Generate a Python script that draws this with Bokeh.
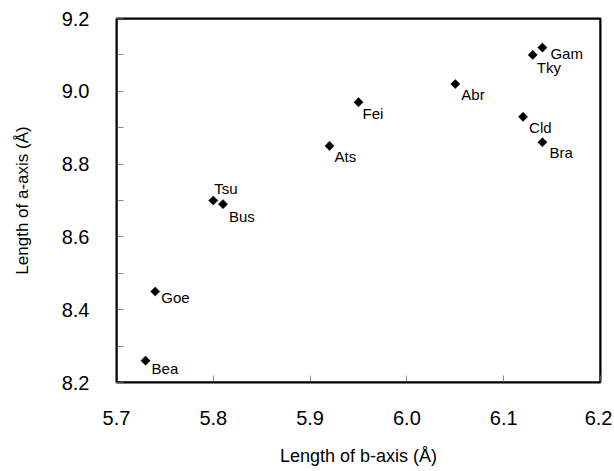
import math
from bokeh.plotting import figure
from bokeh.models import Range1d, FixedTicker, PrintfTickFormatter, ColumnDataSource, BoxAnnotation
from bokeh.core.properties import value
from bokeh.embed import file_html
from bokeh.resources import INLINE

# ---- data ----
names = ["Gam", "Tky", "Abr", "Fei", "Cld", "Bra", "Ats", "Tsu", "Bus", "Goe", "Bea"]
b_axis = [6.14, 6.13, 6.05, 5.95, 6.12, 6.14, 5.92, 5.80, 5.81, 5.74, 5.73]
a_axis = [9.12, 9.10, 9.02, 8.97, 8.93, 8.86, 8.85, 8.70, 8.69, 8.45, 8.26]
x_ticks = [5.7, 5.8, 5.9, 6.0, 6.1, 6.2]
y_ticks = [8.2, 8.4, 8.6, 8.8, 9.0, 9.2]
y_minor_ticks = [8.3, 8.5, 8.7, 8.9, 9.1]
x_title = "Length of b-axis (Å)"
y_title = "Length of a-axis (Å)"

# ---- label placement (pixels, right / down) ----
label_dx = {"Gam": 8, "Tky": 4, "Abr": 6, "Fei": 4, "Cld": 6, "Bra": 7,
            "Ats": 5, "Tsu": 1, "Bus": 6, "Goe": 6, "Bea": 6}
label_dy = {"Gam": 6, "Tky": 13, "Abr": 10, "Fei": 11, "Cld": 11, "Bra": 10,
            "Ats": 11, "Tsu": -12, "Bus": 12, "Goe": 6, "Bea": 8}

FONT = "Liberation Sans"
W, H = 612, 470
BL, BR, BT, BB = 116, 12, 18, 88
x0, x1 = x_ticks[0], x_ticks[-1]
y0, y1 = y_ticks[0], y_ticks[-1]

p = figure(width=W, height=H, output_backend="svg", toolbar_location=None,
           x_range=Range1d(x0, x1), y_range=Range1d(y0, y1),
           min_border_left=BL, min_border_right=BR,
           min_border_top=BT, min_border_bottom=BB)
p.background_fill_color = "white"
p.border_fill_color = "white"
p.grid.visible = False
p.outline_line_color = "black"
p.outline_line_width = 2

for ax in (p.xaxis[0], p.yaxis[0]):
    ax.axis_line_color = "black"
    ax.axis_line_width = 1
    ax.major_tick_in = 7
    ax.major_tick_out = 0
    ax.minor_tick_in = 7
    ax.minor_tick_out = 0
    ax.major_tick_line_color = "#888888"
    ax.minor_tick_line_color = "#888888"
    ax.major_label_text_font = FONT
    ax.major_label_text_font_size = "20px"
    ax.major_label_text_color = "black"
    ax.formatter = PrintfTickFormatter(format="%.1f")
    ax.axis_label_text_font = FONT
    ax.axis_label_text_font_style = "normal"
    ax.axis_label_text_color = "black"

p.xaxis[0].ticker = FixedTicker(ticks=x_ticks, minor_ticks=[])
p.yaxis[0].ticker = FixedTicker(ticks=y_ticks, minor_ticks=y_minor_ticks)
p.xaxis[0].major_label_standoff = 28
p.yaxis[0].major_label_standoff = 27
p.xaxis[0].axis_label = x_title
p.yaxis[0].axis_label = y_title
p.xaxis[0].axis_label_text_font_size = "18px"
p.yaxis[0].axis_label_text_font_size = "17px"
p.xaxis[0].axis_label_standoff = 18
p.yaxis[0].axis_label_standoff = 27

p.add_layout(BoxAnnotation(left=x0, right=x1, bottom=y0, top=y1,
                           fill_alpha=0, line_color="black", line_alpha=1,
                           line_width=2, level="overlay"))

src = ColumnDataSource(dict(
    x=b_axis, y=a_axis, name=names,
    dx=[label_dx[n] for n in names], dy=[label_dy[n] for n in names]))

p.scatter(x="x", y="y", source=src, marker="square", size=6.5, angle=math.pi / 4,
          fill_color="black", line_color="black", line_width=0.5)
p.text(x="x", y="y", text="name", source=src, x_offset="dx", y_offset="dy",
       text_font=value(FONT), text_font_size="15px", text_color="black",
       text_align="left", text_baseline="middle")

open("out.html", "w").write(file_html(p, INLINE))
